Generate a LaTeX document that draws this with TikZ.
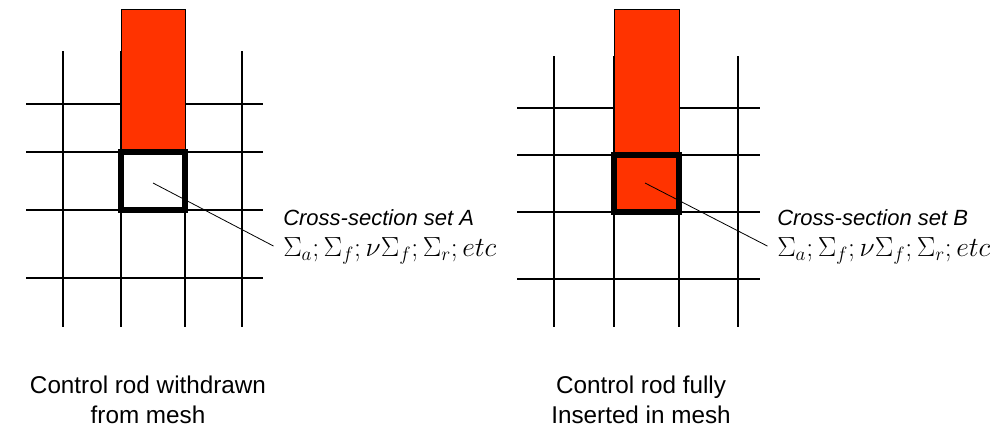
\documentclass[tikz,border=0pt]{standalone}
\usepackage{fontspec}
\setmainfont{Liberation Sans}
\usetikzlibrary{positioning}
\definecolor{rodred}{RGB}{255,51,0}
\tikzset{
  mesh/.style    = {line width=0.8pt},
  rod/.style     = {draw, line width=0.6pt, fill=rodred},
  cellbox/.style = {draw, line width=5.2pt},
  lead/.style    = {line width=0.6pt, shorten >=8pt},
  xslabel/.style = {anchor=west, inner sep=0pt, font=\fontsize{16.5}{20}\selectfont\itshape},
  xsform/.style  = {anchor=west, inner sep=0pt, font=\fontsize{19.5}{22}\selectfont},
  caption/.style = {align=center, inner sep=0pt, font=\fontsize{18.2}{22.5}\selectfont},
}

\begin{document}
\begin{tikzpicture}[x=0.75pt, y=-0.75pt]
    \useasboundingbox (0,0) rectangle (1002,437);
    % rod withdrawn
    \foreach \y in {104,152,210,278} \draw[mesh] (26,\y) -- (263,\y);
    \foreach \x in {63,121,185,242} \draw[mesh] (\x,51) -- (\x,327);
    \draw[rod] (121,9) rectangle (185,152);
    \draw[cellbox] (121,152) rectangle (185,210);
    \coordinate (cellA) at (153,183);
    \node[xslabel] (setA) at (283,218) {Cross-section set A};
    \node[xsform] (formA) at (283,251) {$\Sigma_a;\Sigma_f;\nu\Sigma_f;\Sigma_r;etc$};
    \draw[lead] (cellA) -- (formA.west);
    \node[caption] (capA) at (148,400) {Control rod withdrawn\\from mesh};
    % rod inserted
    \foreach \y in {108,155,212,279} \draw[mesh] (517,\y) -- (760,\y);
    \foreach \x in {554,614,679,738} \draw[mesh] (\x,56) -- (\x,327);
    \draw[rod] (614,9) rectangle (679,155);
    \draw[cellbox, fill=rodred] (614,155) rectangle (679,212);
    \coordinate (cellB) at (645,183);
    \node[xslabel] (setB) at (777,218) {Cross-section set B};
    \node[xsform] (formB) at (777,251) {$\Sigma_a;\Sigma_f;\nu\Sigma_f;\Sigma_r;etc$};
    \draw[lead] (cellB) -- (formB.west);
    \node[caption] (capB) at (641,400) {Control rod fully\\Inserted in mesh};
  \end{tikzpicture}
\end{document}
